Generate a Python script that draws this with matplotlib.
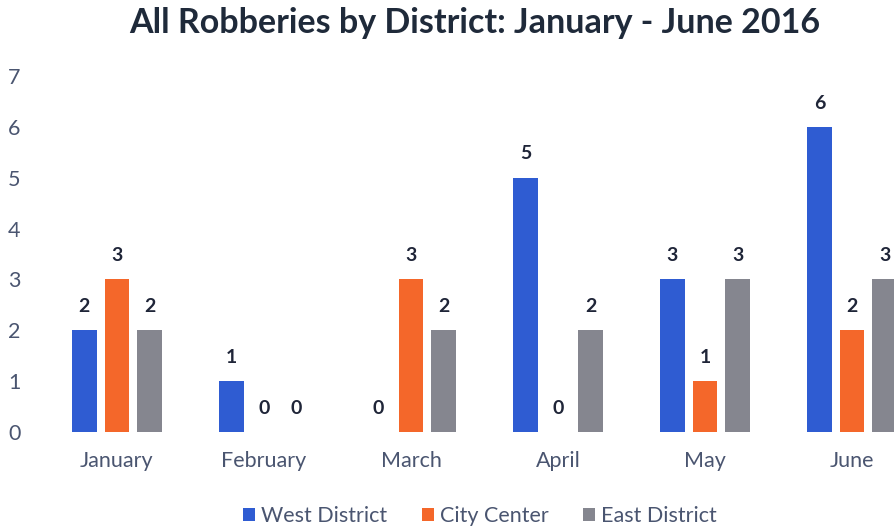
import numpy as np
import matplotlib.pyplot as plt

months = ["January", "February", "March", "April", "May", "June"]
west = [2, 1, 0, 5, 3, 6]
city = [3, 0, 3, 0, 1, 2]
east = [2, 0, 2, 2, 3, 3]

series_names = ["West District", "City Center", "East District"]
colors = ["#2f5cd2", "#f4672a", "#85868f"]

plt.rcParams["font.family"] = ["Lato", "DejaVu Sans"]

fig = plt.figure(figsize=(8.95, 5.29), dpi=100)
ax = fig.add_axes([43.5 / 895, 97 / 529, 882 / 895, 356 / 529])

x = np.arange(len(months))
width = 0.17
offset = 0.222

for i, (vals, name, col) in enumerate(zip([west, city, east], series_names, colors)):
    pos = x + (i - 1) * offset
    bars = ax.bar(pos, vals, width, color=col, label=name)
    for b, v in zip(bars, vals):
        ax.annotate(str(v), (b.get_x() + b.get_width() / 2, v),
                    xytext=(0, 11), textcoords="offset points",
                    ha="center", va="bottom", fontsize=14, fontweight="bold",
                    color="#1f2538")

ax.set_xlim(-0.5, 5.5)
ax.set_ylim(0, 7)
ax.set_xticks(x)
ax.set_xticklabels(months, fontsize=15.5, color="#4a5570")
ax.set_yticks(range(8))
ax.set_yticklabels([str(v) for v in range(8)], fontsize=15.5, color="#4a5570")
ax.tick_params(length=0)
ax.tick_params(axis="x", pad=14)
ax.tick_params(axis="y", pad=0)
for yl in ax.get_yticklabels():
    yl.set_horizontalalignment("left")
    yl.set_x(-43.5 / 882 + 8 / 882)
for s in ax.spines.values():
    s.set_visible(False)

fig.text(475 / 895, 1 - 23 / 529, "All Robberies by District: January - June 2016",
         ha="center", va="center", fontsize=24.5, fontweight="bold", color="#1f2a3a")

fig.legend(loc="center", bbox_to_anchor=(480 / 895, 1 - 516 / 529), ncol=3,
           frameon=False, fontsize=15.5, handlelength=0.55, handleheight=0.55,
           handletextpad=0.3, columnspacing=1.6, labelcolor="#4a5570")

fig.savefig("out.png", dpi=100)
